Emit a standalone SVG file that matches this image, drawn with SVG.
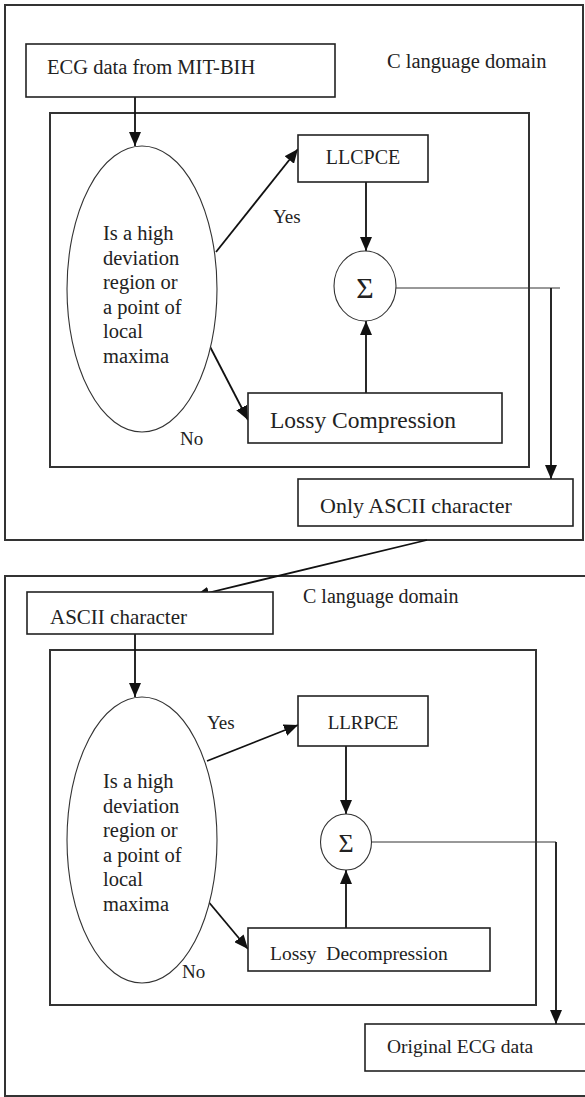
<svg xmlns="http://www.w3.org/2000/svg" width="585" height="1097" viewBox="0 0 585 1097">
<style>
.box{fill:#fff;stroke:#222;stroke-width:1.6}
.frame{fill:none;stroke:#333;stroke-width:2}
.ell{fill:#fff;stroke:#333;stroke-width:1.1}
.t{font-family:"Liberation Serif","Times New Roman",serif;fill:#222}
.c{stroke:#111;stroke-width:1.8;fill:none}
.thin{stroke:#333;stroke-width:1;fill:none}
</style>
<defs>
<marker id="ah" markerUnits="userSpaceOnUse" markerWidth="14" markerHeight="12" viewBox="0 0 14 12" refX="14" refY="6" orient="auto">
<path d="M0,0 L14,6 L0,12 Z" fill="#111"/>
</marker>
</defs>
<rect width="585" height="1097" fill="#fff"/>

<g id="frame-top"><rect class="frame" x="5" y="5" width="578" height="535"/><rect class="frame" x="50" y="113" width="479" height="354"/>
<text class="t" x="387" y="68" font-size="20.5">C language domain</text></g>
<g id="frame-bottom"><rect class="frame" x="5" y="576" width="590" height="520"/><rect class="frame" x="50" y="650" width="486" height="355"/>
<text class="t" x="303" y="603" font-size="20">C language domain</text></g>

<g id="connectors">
<line class="c" x1="135" y1="87" x2="135" y2="146" marker-end="url(#ah)"/>
<line class="c" x1="216" y1="252" x2="298" y2="149" marker-end="url(#ah)"/>
<line class="c" x1="205" y1="337" x2="248" y2="420" marker-end="url(#ah)"/>
<line class="c" x1="366" y1="182" x2="366" y2="251" marker-end="url(#ah)"/>
<line class="c" x1="366" y1="393" x2="366" y2="321" marker-end="url(#ah)"/>
<polyline class="thin" points="396,288 560,288"/>
<line class="c" x1="551" y1="288" x2="551" y2="479" marker-end="url(#ah)"/>
<line class="c" x1="427" y1="540" x2="195" y2="596" marker-end="url(#ah)"/>
<line class="c" x1="135" y1="622" x2="135" y2="697" marker-end="url(#ah)"/>
<line class="c" x1="207" y1="761" x2="298" y2="725" marker-end="url(#ah)"/>
<line class="c" x1="207" y1="900" x2="248" y2="949" marker-end="url(#ah)"/>
<line class="c" x1="346" y1="746" x2="346" y2="814" marker-end="url(#ah)"/>
<line class="c" x1="346" y1="928" x2="346" y2="870" marker-end="url(#ah)"/>
<polyline class="thin" points="372,842 556,842"/>
<line class="c" x1="556" y1="842" x2="556" y2="1024" marker-end="url(#ah)"/>
</g>

<g id="ecg-source"><rect class="box" x="26" y="44" width="309" height="53"/>
<text class="t" x="47" y="74" font-size="20.5">ECG data from MIT-BIH</text></g>

<g id="decision-1"><ellipse class="ell" cx="142" cy="289" rx="75" ry="143"/>
<text class="t" x="103" font-size="20.5"><tspan x="103" y="240">Is a high</tspan><tspan x="103" y="264.5">deviation</tspan><tspan x="103" y="289">region or</tspan><tspan x="103" y="313.5">a point of</tspan><tspan x="103" y="338">local</tspan><tspan x="103" y="362.5">maxima</tspan></text></g>
<text class="t" x="273" y="223" font-size="19">Yes</text>
<text class="t" x="180" y="445" font-size="19">No</text>

<g id="llcpce"><rect class="box" x="298" y="135" width="130" height="47"/>
<text class="t" x="363" y="164" font-size="20" text-anchor="middle">LLCPCE</text></g>

<g id="sum-1"><ellipse class="ell" cx="365" cy="286" rx="31" ry="35"/>
<text class="t" x="365" y="298" font-size="30" text-anchor="middle">Σ</text></g>

<g id="lossy-comp"><rect class="box" x="248" y="393" width="254" height="50"/>
<text class="t" x="270" y="428" font-size="23.5">Lossy Compression</text></g>

<g id="only-ascii"><rect class="box" x="298" y="479" width="275" height="47"/>
<text class="t" x="320" y="513" font-size="22">Only ASCII character</text></g>

<g id="ascii"><rect class="box" x="27" y="592" width="246" height="42"/>
<text class="t" x="50" y="624" font-size="21">ASCII character</text></g>

<g id="decision-2"><ellipse class="ell" cx="142" cy="840" rx="75" ry="143"/>
<text class="t" x="103" font-size="20.5"><tspan x="103" y="788">Is a high</tspan><tspan x="103" y="812.5">deviation</tspan><tspan x="103" y="837">region or</tspan><tspan x="103" y="861.5">a point of</tspan><tspan x="103" y="886">local</tspan><tspan x="103" y="910.5">maxima</tspan></text></g>
<text class="t" x="207" y="729" font-size="19">Yes</text>
<text class="t" x="182" y="978" font-size="19">No</text>

<g id="llrpce"><rect class="box" x="298" y="696" width="130" height="50"/>
<text class="t" x="363" y="729" font-size="19" text-anchor="middle">LLRPCE</text></g>

<g id="sum-2"><ellipse class="ell" cx="346" cy="842" rx="25.5" ry="28"/>
<text class="t" x="346" y="852" font-size="26" text-anchor="middle">Σ</text></g>

<g id="lossy-decomp"><rect class="box" x="248" y="928" width="242" height="43"/>
<text class="t" x="270" y="960" font-size="19.5" xml:space="preserve">Lossy  Decompression</text></g>

<g id="original"><rect class="box" x="365" y="1024" width="230" height="47"/>
<text class="t" x="387" y="1053" font-size="19.5">Original ECG data</text></g>
</svg>
